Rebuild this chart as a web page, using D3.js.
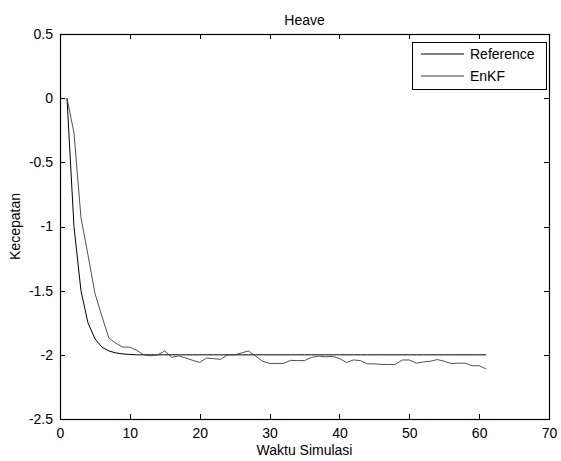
<!DOCTYPE html>
<html>
<head>
<meta charset="utf-8">
<script src="https://cdn.jsdelivr.net/npm/d3@7"></script>
<style>
  body { margin: 0; background: #fff; }
  svg { display: block; font-family: "Liberation Sans", Arial, sans-serif; }
</style>
</head>
<body>
<svg></svg>
<script>
let waktu = [1, 2, 3, 4, 5, 6, 7, 8, 9, 10, 11, 12, 13, 14, 15, 16, 17, 18, 19, 20,
  21, 22, 23, 24, 25, 26, 27, 28, 29, 30, 31, 32, 33, 34, 35, 36, 37, 38, 39, 40,
  41, 42, 43, 44, 45, 46, 47, 48, 49, 50, 51, 52, 53, 54, 55, 56, 57, 58, 59, 60, 61]

let reference = [0, -1, -1.5, -1.75, -1.875, -1.94, -1.97, -1.985, -1.993, -1.997,
  -2, -2, -2, -2, -2, -2, -2, -2, -2, -2,
  -2, -2, -2, -2, -2, -2, -2, -2, -2, -2,
  -2, -2, -2, -2, -2, -2, -2, -2, -2, -2,
  -2, -2, -2, -2, -2, -2, -2, -2, -2, -2,
  -2, -2, -2, -2, -2, -2, -2, -2, -2, -2, -2]

let enkf = [0, -0.27, -0.93, -1.22, -1.52, -1.70, -1.87, -1.91, -1.94, -1.94,
  -1.965, -2.0, -2.007, -2.0, -1.97, -2.02, -2.008, -2.025, -2.043, -2.059,
  -2.025, -2.03, -2.035, -2.0, -2.0, -1.985, -1.97, -2.01, -2.05, -2.067,
  -2.067, -2.067, -2.043, -2.045, -2.045, -2.02, -2.01, -2.015, -2.012, -2.028,
  -2.06, -2.04, -2.045, -2.07, -2.07, -2.075, -2.075, -2.075, -2.04, -2.04,
  -2.065, -2.055, -2.05, -2.037, -2.05, -2.068, -2.065, -2.065, -2.085, -2.085, -2.11]

let xTicks = [0, 10, 20, 30, 40, 50, 60, 70]
let yTicks = [0.5, 0, -0.5, -1, -1.5, -2, -2.5]
let seriesNames = ['Reference', 'EnKF']
let seriesColors = ['#000000', '#3c3c3c']

let width = 561
let height = 461
let plotLeft = 60
let plotRight = 549
let plotTop = 34
let plotBottom = 419
let fontSize = '14px'

let svg = d3.select('svg').attr('width', width).attr('height', height)

let xScale = d3.scaleLinear().domain([0, 70]).range([plotLeft, plotRight])
let yScale = d3.scaleLinear().domain([-2.5, 0.5]).range([plotBottom, plotTop])

let fmt = (d) => String(d)

// axes, ticks pointing inward like matlab
let styleAxis = (g) => {
  g.select('.domain').remove()
  g.selectAll('line').attr('stroke', '#000').attr('shape-rendering', 'crispEdges')
  g.selectAll('text').attr('fill', '#000').style('font-size', fontSize)
}

svg.append('g')
  .attr('transform', 'translate(0,' + plotBottom + ')')
  .call(d3.axisBottom(xScale).tickValues(xTicks).tickFormat(fmt).tickSizeInner(-5).tickSizeOuter(0).tickPadding(9))
  .call(styleAxis)

svg.append('g')
  .attr('transform', 'translate(0,' + plotTop + ')')
  .call(d3.axisTop(xScale).tickValues(xTicks).tickFormat('').tickSizeInner(-5).tickSizeOuter(0))
  .call(styleAxis)

svg.append('g')
  .attr('transform', 'translate(' + plotLeft + ',0)')
  .call(d3.axisLeft(yScale).tickValues(yTicks).tickFormat(fmt).tickSizeInner(-5).tickSizeOuter(0).tickPadding(7))
  .call(styleAxis)

svg.append('g')
  .attr('transform', 'translate(' + plotRight + ',0)')
  .call(d3.axisRight(yScale).tickValues(yTicks).tickFormat('').tickSizeInner(-5).tickSizeOuter(0))
  .call(styleAxis)

svg.append('rect')
  .attr('x', plotLeft + 0.5)
  .attr('y', plotTop + 0.5)
  .attr('width', plotRight - plotLeft)
  .attr('height', plotBottom - plotTop)
  .attr('fill', 'none')
  .attr('stroke', '#000')
  .attr('stroke-width', 1.2)

// lines
let line = d3.line()
  .x((d) => xScale(d[0]))
  .y((d) => yScale(d[1]))

let allSeries = [reference, enkf]
allSeries.forEach((vals, i) => {
  svg.append('path')
    .datum(waktu.map((t, j) => [t, vals[j]]))
    .attr('d', line)
    .attr('fill', 'none')
    .attr('stroke', seriesColors[i])
    .attr('stroke-width', i == 0 ? 1 : 0.9)
})

// labels
svg.append('text')
  .attr('x', (plotLeft + plotRight) / 2)
  .attr('y', 25)
  .attr('text-anchor', 'middle')
  .style('font-size', fontSize)
  .text('Heave')

svg.append('text')
  .attr('x', (plotLeft + plotRight) / 2)
  .attr('y', 455)
  .attr('text-anchor', 'middle')
  .style('font-size', fontSize)
  .text('Waktu Simulasi')

svg.append('text')
  .attr('transform', 'translate(20,' + ((plotTop + plotBottom) / 2) + ') rotate(-90)')
  .attr('text-anchor', 'middle')
  .style('font-size', fontSize)
  .text('Kecepatan')

// legend
let legend = svg.append('g').attr('transform', 'translate(412,42)')
legend.append('rect')
  .attr('x', 0.5).attr('y', 0.5)
  .attr('width', 134).attr('height', 47)
  .attr('fill', '#fff')
  .attr('stroke', '#000')

seriesNames.forEach((name, i) => {
  let yy = 12 + i * 22
  legend.append('line')
    .attr('x1', 9).attr('x2', 52)
    .attr('y1', yy).attr('y2', yy)
    .attr('stroke', seriesColors[i])
    .attr('stroke-width', 1)
  legend.append('text')
    .attr('x', 58)
    .attr('y', yy + 5)
    .style('font-size', fontSize)
    .text(name)
})
</script>
</body>
</html>
